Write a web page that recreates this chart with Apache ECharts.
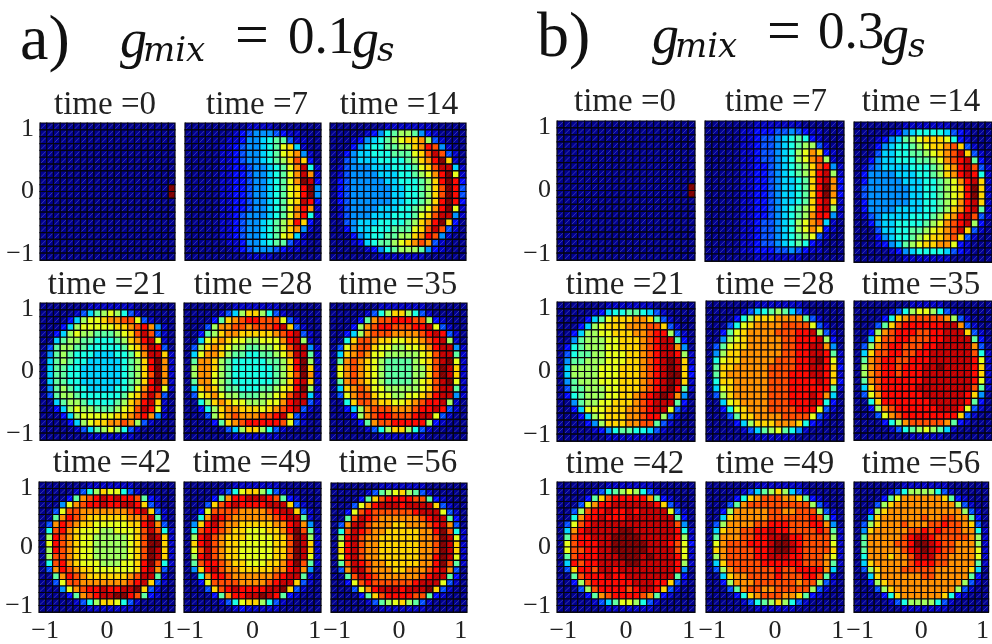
<!DOCTYPE html>
<html><head><meta charset="utf-8">
<style>html,body{margin:0;padding:0;background:#fff}#c{width:992px;height:644px}</style>
<script src="https://cdn.jsdelivr.net/npm/echarts@6/dist/echarts.min.js"></script>
</head><body><div id="c"></div>
<script>
const a00=["00000 00000 00000 00000","00000 00000 00000 00000","00000 00000 00000 00000","00000 00000 00000 00000","00000 00000 00000 00000","00000 00000 00000 00000","00000 00000 00000 00000","00000 00000 00000 00000","00000 00000 00000 00000","00000 00000 00000 0000f","00000 00000 00000 0000f","00000 00000 00000 00000","00000 00000 00000 00000","00000 00000 00000 00000","00000 00000 00000 00000","00000 00000 00000 00000","00000 00000 00000 00000","00000 00000 00000 00000","00000 00000 00000 00000","00000 00000 00000 00000"];
const a07=["00000 00001 11100 00000","00000 00123 44432 11000","00000 01124 45677 31100","00000 11234 45679 a5100","00000 11234 45679 ab410","00000 11234 45678 aca20","00000 11223 44567 9be61","00000 11223 44567 9beb1","00000 11223 44567 9bfe2","00000 11223 44567 9adf4","00000 11223 44567 9adf4","00000 11223 44567 9aed2","00000 11223 44567 9bdb1","00000 11234 44567 9bd61","00000 11234 45678 ada20","00000 11234 45678 ab410","00000 11234 45679 a5100","00000 01124 45677 31100","00000 00123 44432 11000","00000 00001 11100 00000"];
const a14=["00000 00011 11111 00000","00000 12467 88742 10000","00012 45678 9aab8 31000","00024 56677 88abd c4100","00245 56667 779ac ec310","00345 55666 678ab dfa10","01344 45556 6679a cee51","01344 44555 66789 bdf91","02344 44455 66678 adfd2","02344 44445 56678 acfd3","02344 44445 56678 acfd3","02344 44445 56678 adfd2","01344 44555 66789 bdf91","01344 45556 6679a cee41","00345 55666 678ab dfa20","00245 56667 779ac ec310","00024 56677 88abd c4100","00012 56778 9abcb 31000","00000 12467 88874 21000","00000 00111 11110 00000"];
const a21=["00000 00111 11110 00000","00000 13578 98631 00000","00002 5899a bbcc9 31000","00025 89999 9aabc db410","00258 98877 789ac ec310","00578 87766 678ab de910","03788 77666 6679a ced30","04787 66655 56679 beea1","05787 66555 55678 adfb1","05776 65555 55678 adfb1","05776 65555 55678 acfb1","05776 65555 55678 adfb1","04787 66555 56679 bde91","03788 76666 6679a cec30","00578 87666 678ab dea10","00258 98877 789ac ed910","00025 89999 9aabc db410","00002 589aa bbcb8 31000","00000 13578 98631 00000","00000 00111 11110 00000"];
const a28=["00000 00111 11110 00000","00000 1358a a8631 00000","00002 7abcd dccc9 31000","00038 bbccb cccde a3100","00278 abbaa aaabc de310","0059a ba998 8999b de810","038ab a9887 7889a cee41","059bb a8776 67789 bee71","07bba 87666 66778 adf81","08bba 87666 66678 adfa1","08bb9 87666 66678 acfb1","07bb9 87666 66678 adea1","05aba 87766 67789 adf81","039ab 98877 7889a cee51","0068a ba998 8899b dee31","00268 abbaa a9abc de310","00038 abcbb bccde a3100","00002 7abcd ddddc 93100","00000 0358a a8631 00000","00000 00111 11110 00000"];
const a35=["00000 00111 11110 00000","00000 1368a a8631 00000","00002 7bccd ddcc8 21000","00028 bcddc ccdde 93100","00258 bcccb bbbcd ed310","006ac cbaa9 9aabc de810","039bc ca998 899ab dee41","05abc b9988 8889a cee71","07bcb a9877 7789a cef91","09bcb a9877 7788a cfea1","09bcb a9877 7788a cfea1","07bcb a9877 7789a cef91","05abc b9988 8889a cee71","039bc ca998 899ab dee41","006ac cbaa9 9abcd de810","00258 bcccb bbcdd ed310","00028 bcddc ccdee 93100","00002 7bccd dddd8 21000","00000 1368a a8631 00000","00000 00111 11110 00000"];
const a42=["00000 00111 11110 00000","00000 1368a 99631 00000","00002 7bcde deddc 72100","00049 bcdde ddeed a3100","0039c cbbbb bbbcd ea310","007bd cbaaa aaabb ce710","03bdc baa99 999aa deb30","06cdb a9998 8999a cec61","08dcb a9988 8889a cfea1","09dcb a9988 8889a cffa1","08dcb a9988 8889a cfea1","08ccb a9988 8889a cfea1","06cdb a9998 8899a dfc61","03bdc baa99 9999a deb30","007bd cbaaa aaabc ee710","0039c cbbbb bbbcd ea310","00049 bcdde ddeef a3100","00002 7bcde effdc 72100","00000 1368a a9631 00000","00000 00111 11110 00000"];
const a49=["00000 00111 11110 00000","00000 1369a a8631 00000","00002 7bdde eedc7 21000","0003a cdedd ddeee a3100","0029c cccbb bbcde ea310","006be dcbbb bbbcd ee710","04ade cbbaa aaabb deb40","06cdd cbaa9 99aab dfc71","08dec baaa9 999aa cfe81","0adec baa99 999aa cfea1","09cec baa99 999aa cfea1","08dec baa99 999aa cfe91","07cdd cbaa9 99aab dfc71","04ade cbbaa aaabb deb40","006bd dcbbb bbbcd ee710","0029c cccbb bbcde ea310","0003a cdedd ddeef a3100","00002 7bdde efed7 21000","00000 1369a a8631 00000","00000 00121 11110 00000"];
const a56=["00000 00111 11110 00000","00000 13789 a8731 00000","00002 7acdd ddcc7 21000","00039 bdeee deeee a3100","0029c dcccc ccdee e9310","007ce dcbbb bbbcd ee720","03bee cbbba abbbc deb30","06ced cbbaa aaabb dfc61","08dec bbaaa aaabb cfe91","09dec bbaaa aaabb cfea1","0adec bbaaa aaabb cfea1","09dec bbaaa aaabb dfe91","07ced cbbaa aaabb dfc71","03bee cbbba abbbc deb30","007ce dcbbb bbbcd ee720","0029c dcccc ccdee e9310","00039 bdeee deeef a3100","00002 7acdd ddcc7 21000","00000 13789 a8731 00000","00000 00111 11110 00000"];
const b00=["00000 00000 00000 00000","00000 00000 00000 00000","00000 00000 00000 00000","00000 00000 00000 00000","00000 00000 00000 00000","00000 00000 00000 00000","00000 00000 00000 00000","00000 00000 00000 00000","00000 00000 00000 00000","00000 00000 00000 0000f","00000 00000 00000 0000f","00000 00000 00000 00000","00000 00000 00000 00000","00000 00000 00000 00000","00000 00000 00000 00000","00000 00000 00000 00000","00000 00000 00000 00000","00000 00000 00000 00000","00000 00000 00000 00000","00000 00000 00000 00000"];
const b07=["00000 00111 11110 00000","00000 11222 33432 11000","00000 11233 45676 21000","00000 11233 45678 83100","00000 11233 45689 ba210","00000 11233 45689 bc810","00000 11223 45678 acd41","00000 11223 45678 ade81","00000 11223 45567 adeb2","00000 11223 45567 adfb2","00000 11223 45567 adfb2","00000 11223 45567 adea1","00000 11223 45678 ade81","00000 11223 45678 bdd41","00000 11233 45689 bc510","00000 11233 45689 ba210","00000 11233 45678 93100","00000 11233 45676 21000","00000 11222 33432 11000","00000 00111 11110 00000"];
const b14=["00000 00111 11110 00000","00000 12456 66653 21000","00012 45789 aaa96 21000","00024 56678 9aabc a3100","00035 56677 89abc ea310","00245 56667 789bc de720","01345 55566 678ab dec31","02444 45556 678ab ded61","02444 44555 66789 bdea1","03444 44455 66789 adfa1","03444 44455 66789 adfa1","02444 44455 66789 bdea1","02444 45555 6678a bde71","01345 55566 678ab dec31","00245 56666 789bc de820","00035 56677 89abc ea310","00024 56678 9aabc a3100","00012 45789 aabb9 21000","00000 12456 66653 21000","00000 00111 11110 00000"];
const b21=["00000 00111 11110 00000","00000 12566 77653 10000","00002 579aa abba7 31000","00025 89aaa bbbcc a3100","00258 899aa abbcd d8310","00478 8899a aabcd ee720","02678 8899a aabcd eeb40","03677 88999 aabcd eed81","04778 88999 aabcd efea1","05888 8999a aabcd efea2","05888 8999a aabcd effa2","04788 8999a aabcd efea1","03778 8899a aabcd efd71","02678 8899a abcde feb40","00478 899aa abcde ee720","00259 99aaa bbcde e9310","00025 89aaa bbcdd 83100","00002 48aaa bbcc7 31000","00000 12467 76653 10000","00000 00111 11110 00000"];
const b28=["00000 00111 11110 00000","00000 13567 87531 00000","00002 68aaa bbbb7 31000","00036 9abbb bcccc 93100","00279 abbbb cccdd e8310","00489 abbbb bccdd de820","0379a abbbb bccdd eeb40","048aa bbbbb bccdd eed71","069aa bbbbb cccdd efd91","07aab bbbbc cccdd eeda2","07abb bbbbc ccddd eeda1","06aab bbbbc ccddd deda2","059ab bbbbc ccddd ddd71","038ab bbbbc ccddd edb50","0059a bbbbc ccddd ed620","00269 abbbc cccdd d9310","00037 aabbb bcccc 93100","00002 58aaa bbba6 21000","00000 13578 97641 00000","00000 00111 11100 00000"];
const b35=["00000 00011 11100 00000","00000 13689 98631 00000","00002 6abcc cccb8 31000","00037 acddd dddee b3100","0028b cdddc cddee ea310","005ac cddcc cddee ee720","038bc ddccc ddeee eeb30","05acc ddccd deeee eec61","07bcd dccdd deeee eed91","08bcd dcddd eefee eeda1","08bcd dcddd eeeee eeda1","07bcd ddddd eeeee eed91","05acd dddde eeeee eec71","039bd ddddd eeeee eda40","006ad ddddd deeee ed720","0028b cdddd ddeee d9310","00039 bcddd ddddd a3100","00002 68bcc cccb7 21000","00000 13678 98751 00000","00000 00011 11100 00000"];
const b42=["00000 00111 11110 00000","00000 13678 98631 00000","00002 7acdd dddb7 21000","00039 bddee eeeed a3100","0038c ddedd edeee e9310","006bd deddd eeeee ee720","039cd eeeee eeeee eec40","05bde eeeef feeee eed61","07cdd eeeff ffeee eed81","09cdd deeff fffee edc92","09ccd deeff fffee eec91","07cdd deeef ffefe eed91","05dcd deeee ffeee eed81","03add ceede eeeee eed40","007cd ddedd eeeee ee720","0028c ddddd deeed da310","00038 cdddd cdeed a3100","00002 7bcdd ddcb7 21000","00000 13579 98631 00000","00000 00111 11110 00000"];
const b49=["00000 00111 11110 00000","00000 13578 a8531 00000","00002 6abcc cbba7 21000","00037 bcccc ccccc 83100","0028b bbbbc cbbcc c8310","005ab bbbbc ccccc dc720","038bb bbccd ddccc ddb40","05abb ccdde ddccc cdc71","07bbb ccdde efddc ccc81","09bcc cddde ffedc ccc91","0abcc ccdde ffedc ccca1","08bcc ccdde eeddc ccb91","05acc cccdd ddddc ccb71","038bc ccccc dccdd ddb50","005ab bcccc dcccd dc710","0028b bbccc cccbc c8310","00037 bccbb ccccc 83100","00002 6abcc cbba7 21000","00000 13678 a8631 00000","00000 00111 11100 00000"];
const b56=["00000 00111 11110 00000","00000 13688 88631 00000","00002 79bbb bbba7 21000","00038 abbbb bbbbb 83100","0028a bbbbb bbbbb b8310","005ab bbbbb cbbcc bb720","038ab bbcbb bccdc cba30","04abb bbbcc dcdcc cbb61","07bbb bbcde edccc ccb81","07bbb bccdf fedcc bbb81","07bbb bbcde fedcc bbb91","06bbb abbce eeccb bbb91","05abb bbbcd ddccb bbb71","038ab bbccc ccbbb bba50","005ab bbbbb ccbbb bb720","0028a bbbbb bbbbb b8310","00038 abbbb bbbbb 83100","00002 6abbb bbba6 21000","00000 13688 88631 00000","00000 00111 11110 00000"];

const tickValues=[-1,0,1];
const panelTimes=[0,7,14,21,28,35,42,49,56];
const panelsA=[a00,a07,a14,a21,a28,a35,a42,a49,a56];
const panelsB=[b00,b07,b14,b21,b28,b35,b42,b49,b56];
const jet=["#000090","#0000c4","#0008ff","#004dff","#0091ff","#00d4ff","#1affe6","#5effa1","#a1ff5e","#e6ff1a","#ffd400","#ff9100","#ff4d00","#ff0800","#c40000","#800000"];

// Panel boxes as [left, top, right, bottom] in page pixels
const boxesA=[[40,123,175,260],[185,123,321,260],[330,123,466,260],[40,303,175,440],[184,303,321,440],[330,303,467,440],[39,482,175,620],[184,482,321,620],[331,483,467,621]];
const boxesB=[[557,121,695,260],[705,121,844,261],[854,122,992,262],[557,302,695,441],[706,301,844,441],[854,301,992,440],[557,482,695,622],[706,482,844,622],[854,482,992,622]];
const titlesPos=[[100,103],[252,103],[394,103],[102,283],[248,283],[393,283],[107,461],[247,461],[393,461],[620,100],[771,100],[916,100],[620,283],[770,283],[916,283],[620,462],[770,462],[916,462]];

const parse=rows=>{const out=[];rows.forEach((r,i)=>{const s=r.replace(/ /g,'');for(let c=0;c<20;c++)out.push([-1.1+(c+.5)*.11,1.1-(i+.5)*.11,parseInt(s[c]||'0',16)]);});return out;};
const serif='"Liberation Serif",serif';
const grids=[],xAxes=[],yAxes=[],series=[],titles=[];
const add=(rows,box,time,pos,idx)=>{
  const n=grids.length;
  grids.push({left:box[0],top:box[1],width:box[2]-box[0],height:box[3]-box[1],containLabel:false});
  const lab={show:true,fontFamily:serif,fontSize:26,color:'#222',margin:6,customValues:tickValues,formatter:v=>String(v).replace('-','\u2212')};
  const line={show:true,onZero:false,lineStyle:{color:'#111',width:1}};
  xAxes.push({type:'value',gridIndex:n,min:-1.1,max:1.1,axisLine:line,axisTick:{show:false},splitLine:{show:false},axisLabel:idx>=6?lab:{show:false}});
  yAxes.push({type:'value',gridIndex:n,min:-1.1,max:1.1,axisLine:line,axisTick:{show:false},splitLine:{show:false},axisLabel:idx%3===0?lab:{show:false}});
  series.push({type:'custom',xAxisIndex:n,yAxisIndex:n,data:parse(rows),encode:{x:0,y:1},silent:true,animation:false,
    renderItem:(p,api)=>{
      const c=api.coord([api.value(0),api.value(1)]),s=api.size([.11,.11]);
      const x=c[0]-s[0]/2,y=c[1]-s[1]/2,a=api.value(2)<=3?.38:.1;
      return {type:'group',children:[
        {type:'rect',shape:{x,y,width:s[0],height:s[1]},style:{fill:api.visual('color'),stroke:'#05050f',lineWidth:1.2}},
        {type:'line',shape:{x1:x+1,y1:y+s[1]-1,x2:x+s[0]-1,y2:y+1},style:{stroke:'rgba(255,255,255,'+a+')',lineWidth:.6}}
      ]};
    }});
  titles.push({text:'time ='+time,left:pos[0],top:pos[1]-19,textAlign:'center',textStyle:{fontFamily:serif,fontWeight:'normal',fontSize:33,color:'#222'}});
};
panelsA.forEach((r,i)=>add(r,boxesA[i],panelTimes[i],titlesPos[i],i));
panelsB.forEach((r,i)=>add(r,boxesB[i],panelTimes[i],titlesPos[i+9],i));

const dv='"DejaVu Serif",serif';
const txt=(text,x,y,size,italic,fam)=>({type:'text',x,y,silent:true,style:{text,fill:'#111',textAlign:'left',textVerticalAlign:'middle',font:(italic?'italic ':'')+size+'px '+(fam||serif)}});
const graphic=[
  txt('a)',20,42,64),txt('g',120,43,54,1),txt('mix',143,52,34,1,dv),txt('=',235,38,60),txt('0.1',288,39,53),txt('g',352,43,54,1),txt('s',377,52,34,1,dv),
  txt('b)',537,39,64),txt('g',652,39,54,1),txt('mix',675,48,34,1,dv),txt('=',767,34,60),txt('0.3',818,34,53),txt('g',882,39,54,1),txt('s',908,48,34,1,dv)
];

const chart=echarts.init(document.getElementById('c'),null,{renderer:'canvas'});
chart.setOption({animation:false,backgroundColor:'#fff',title:titles,grid:grids,xAxis:xAxes,yAxis:yAxes,series,graphic,
  visualMap:{show:false,type:'continuous',min:0,max:15,dimension:2,seriesIndex:series.map((_,i)=>i),inRange:{color:jet}}});
</script></body></html>
